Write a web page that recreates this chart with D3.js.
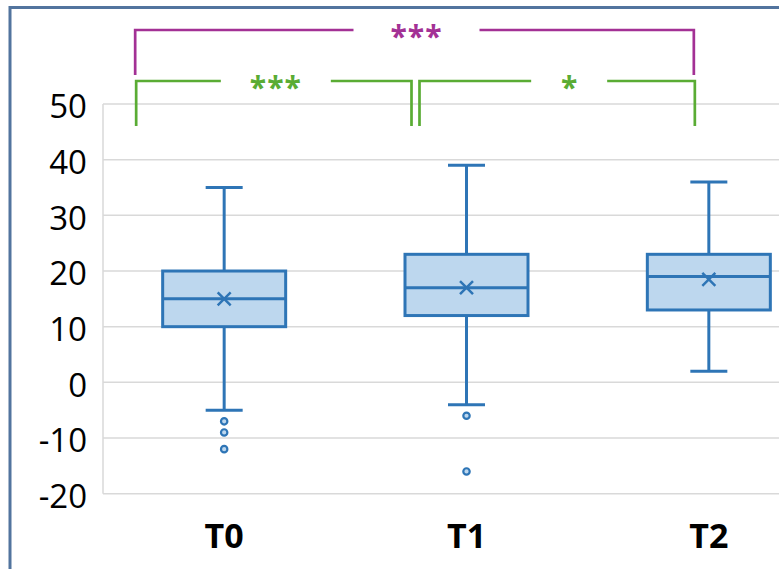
<!DOCTYPE html>
<html>
<head>
<meta charset="utf-8">
<script src="https://cdn.jsdelivr.net/npm/d3@7"></script>
<style>
  body { margin: 0; background: #fff; }
  svg { display: block; }
</style>
</head>
<body>
<div id="chart"></div>
<script>
// Box plot summary per time point
const categories = ['T0', 'T1', 'T2'];
const whiskerHigh = [35, 39, 36];
const q3 = [20, 23, 23];
const median = [15, 17, 19];
const q1 = [10, 12, 13];
const whiskerLow = [-5, -4, 2];
const mean = [15, 17, 18.5];
const outliers = [[-7, -9, -12], [-6, -16], []];
const yTicks = [-20, -10, 0, 10, 20, 30, 40, 50];

// Significance brackets
const brackets = [
    { from: 'T0', to: 'T2', label: '***', level: 0, color: '#a33195' },
    { from: 'T0', to: 'T1', label: '***', level: 1, color: '#5aac34' },
    { from: 'T1', to: 'T2', label: '*', level: 1, color: '#5aac34' }
];

const width = 779, height = 569;
const margin = { left: 103, top: 104, bottom: 75 };
const plotRight = 830;

const svg = d3.select('#chart')
    .append('svg')
    .attr('width', width)
    .attr('height', height);

// outer chart frame (cut off on right and bottom)
svg.append('rect')
    .attr('x', 10).attr('y', 7.5)
    .attr('width', 900).attr('height', 700)
    .attr('fill', 'none')
    .attr('stroke', '#52749e')
    .attr('stroke-width', 3);

const x = d3.scaleBand()
    .domain(categories)
    .range([margin.left, plotRight])
    .padding(0);

const y = d3.scaleLinear()
    .domain([-20, 50])
    .range([height - margin.bottom - 0.3, margin.top]);

// gridlines
svg.append('g')
    .selectAll('line')
    .data(yTicks)
    .join('line')
    .attr('x1', margin.left)
    .attr('x2', plotRight)
    .attr('y1', d => y(d))
    .attr('y2', d => y(d))
    .attr('stroke', '#d9d9d9')
    .attr('stroke-width', 1.5);

svg.append('line')
    .attr('x1', margin.left).attr('x2', margin.left)
    .attr('y1', y(50)).attr('y2', y(-20))
    .attr('stroke', '#d9d9d9')
    .attr('stroke-width', 1.5);

// y axis labels (plain hyphen for negatives)
const yAxis = d3.axisLeft(y)
    .tickValues(yTicks)
    .tickFormat(d => String(d))
    .tickSize(0)
    .tickPadding(16);
svg.append('g')
    .attr('transform', `translate(${margin.left},0)`)
    .call(yAxis)
    .call(g => g.select('.domain').remove())
    .selectAll('text')
    .attr('dy', '0.42em')
    .attr('font-family', '"Open Sans", sans-serif')
    .attr('font-size', '33px')
    .attr('fill', '#000');

// x axis labels
const xAxis = d3.axisBottom(x).tickSize(0).tickPadding(0);
svg.append('g')
    .attr('transform', `translate(0,${y(-20)})`)
    .call(xAxis)
    .call(g => g.select('.domain').remove())
    .selectAll('text')
    .attr('dy', null)
    .attr('y', 54)
    .attr('font-family', '"Open Sans", sans-serif')
    .attr('font-weight', 'bold')
    .attr('font-size', '34px')
    .attr('fill', '#000');

const boxColor = '#2e75b6';
const boxW = 123, capW = 37;

const boxes = svg.append('g')
    .selectAll('g')
    .data(categories)
    .join('g')
    .attr('transform', d => `translate(${x(d) + x.bandwidth() / 2},0)`);

// whiskers
boxes.append('line')
    .attr('x1', 0).attr('x2', 0)
    .attr('y1', (d, i) => y(whiskerHigh[i]))
    .attr('y2', (d, i) => y(whiskerLow[i]))
    .attr('stroke', boxColor).attr('stroke-width', 3);

boxes.selectAll('line.cap')
    .data((d, i) => [whiskerHigh[i], whiskerLow[i]])
    .join('line')
    .attr('class', 'cap')
    .attr('x1', -capW / 2).attr('x2', capW / 2)
    .attr('y1', v => y(v)).attr('y2', v => y(v))
    .attr('stroke', boxColor).attr('stroke-width', 3);

// box
boxes.append('rect')
    .attr('x', -boxW / 2)
    .attr('width', boxW)
    .attr('y', (d, i) => y(q3[i]))
    .attr('height', (d, i) => y(q1[i]) - y(q3[i]))
    .attr('fill', '#bdd7ee')
    .attr('stroke', boxColor).attr('stroke-width', 3);

// median
boxes.append('line')
    .attr('x1', -boxW / 2).attr('x2', boxW / 2)
    .attr('y1', (d, i) => y(median[i]))
    .attr('y2', (d, i) => y(median[i]))
    .attr('stroke', boxColor).attr('stroke-width', 3);

// mean marker
boxes.append('path')
    .attr('d', (d, i) => {
        const c = y(mean[i]), s = 6.5;
        return `M${-s},${c - s}L${s},${c + s}M${-s},${c + s}L${s},${c - s}`;
    })
    .attr('stroke', boxColor).attr('stroke-width', 2.5);

// outliers
boxes.selectAll('circle')
    .data((d, i) => outliers[i])
    .join('circle')
    .attr('cx', 0)
    .attr('cy', v => y(v))
    .attr('r', 3.2)
    .attr('fill', '#bdd7ee')
    .attr('stroke', boxColor).attr('stroke-width', 2.2);

// significance brackets
const levelY = [30, 81];
const legBottom = [75, 126];
const cx = d => x(d) + x.bandwidth() / 2;

brackets.forEach(b => {
    let x1, x2;
    if (b.level === 0) {
        x1 = cx(b.from) - 89; x2 = cx(b.to) - 15;
    } else {
        x1 = b.from === 'T0' ? cx(b.from) - 88 : cx(b.from) - 47;
        x2 = b.to === 'T1' ? cx(b.to) - 55 : cx(b.to) - 14;
    }
    const yy = levelY[b.level], yb = legBottom[b.level];
    const single = b.label.length === 1;
    const mid = (x1 + x2) / 2 + (single ? 12 : 2);
    const gap = single ? 38 : (b.level === 0 ? 63 : 55);
    const g = svg.append('g')
        .attr('fill', 'none')
        .attr('stroke', b.color)
        .attr('stroke-width', 2.7);
    g.append('path').attr('d', `M${x1},${yb}V${yy}H${mid - gap}`);
    g.append('path').attr('d', `M${mid + gap},${yy}H${x2}V${yb}`);
    svg.append('text')
        .attr('x', mid)
        .attr('y', yy + 17)
        .attr('text-anchor', 'middle')
        .attr('font-family', '"Open Sans", sans-serif')
        .attr('font-weight', 'bold')
        .attr('font-size', '30px')
        .attr('letter-spacing', single ? '0px' : '1px')
        .attr('fill', b.color)
        .text(b.label);
});
</script>
</body>
</html>
